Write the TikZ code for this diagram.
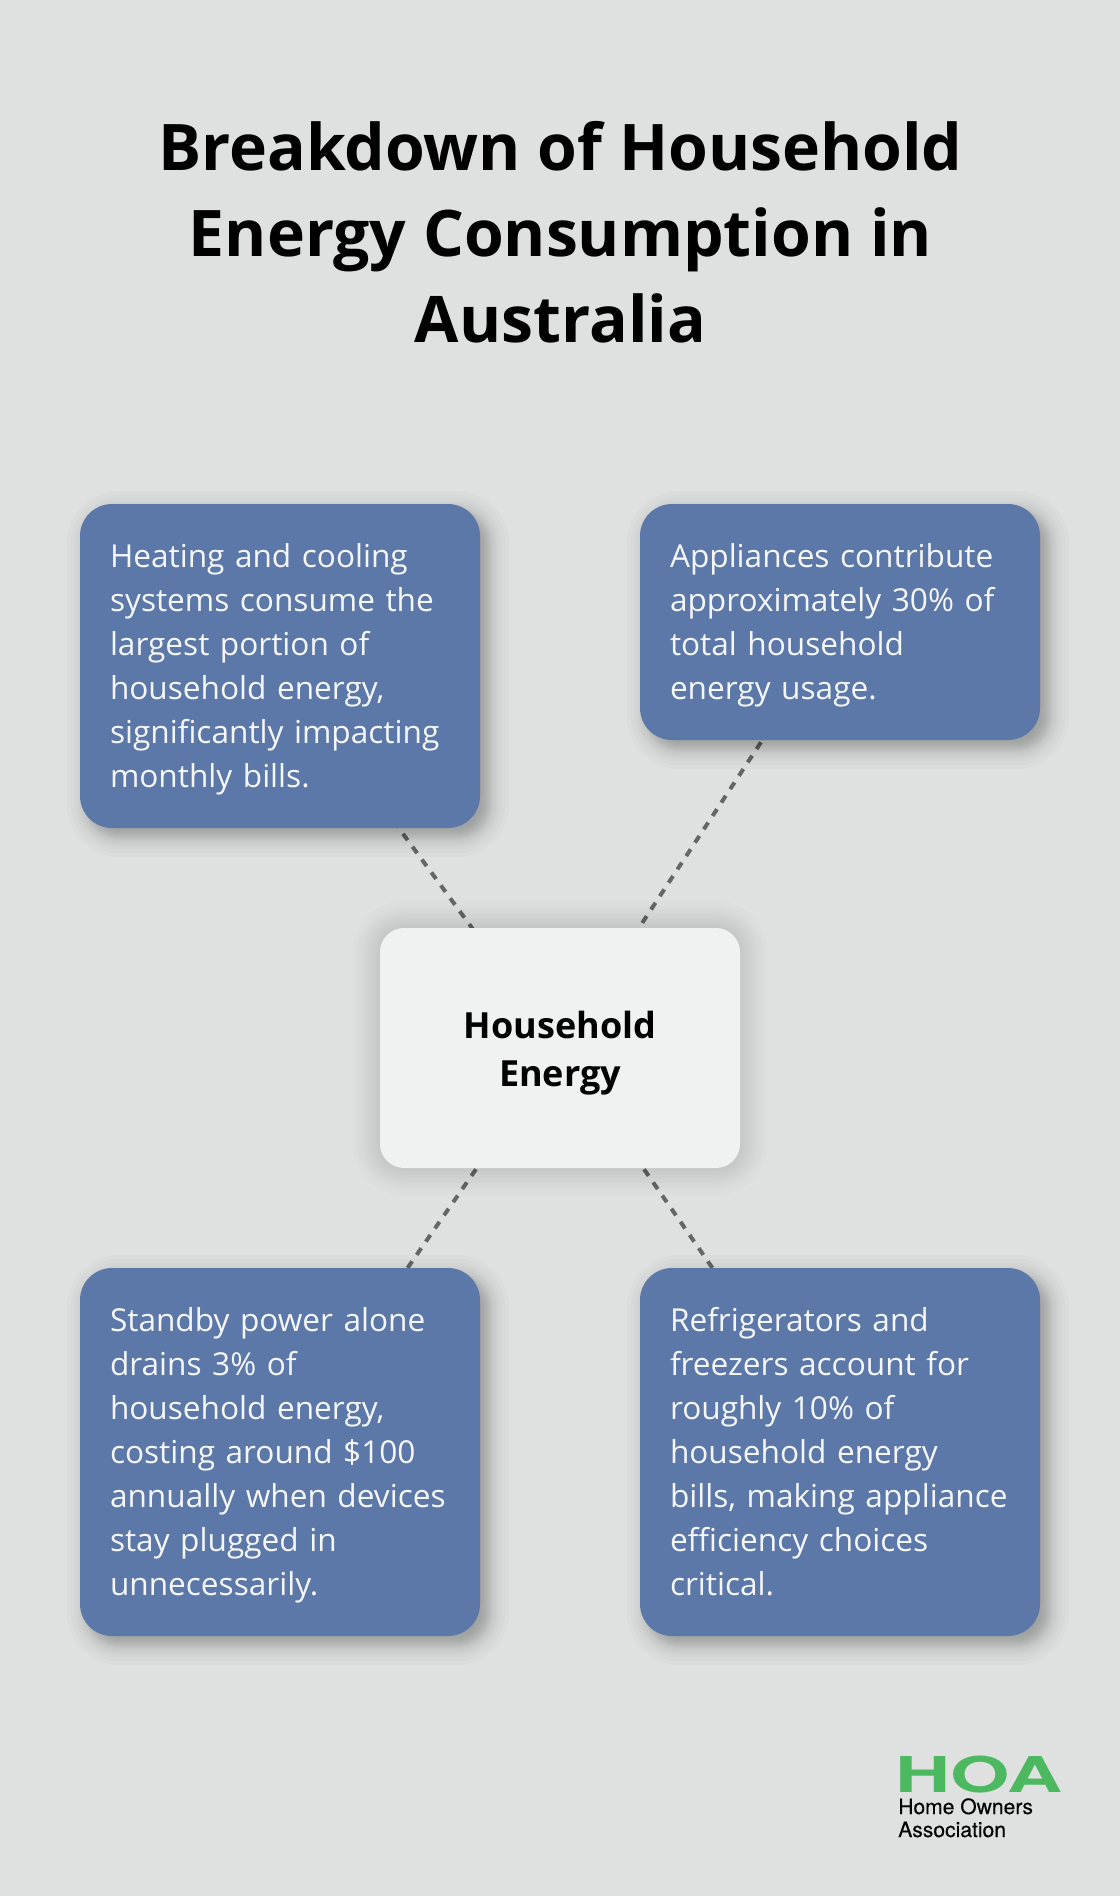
\documentclass[tikz,border=0pt]{standalone}
\usepackage{fontspec}
\setmainfont{Open Sans}
\newfontfamily\logofont{TeX Gyre Heros}
\newfontfamily\logosmall[FakeBold=0.25]{TeX Gyre Heros}
\usetikzlibrary{calc,backgrounds}
\definecolor{pagebg}{HTML}{DEE1E0}
\definecolor{cardblue}{HTML}{5C78A8}
\definecolor{hubfill}{HTML}{F0F2F1}
\definecolor{linkgrey}{HTML}{666666}
\definecolor{logogreen}{HTML}{4CB860}
\definecolor{cardink}{HTML}{F4F6F8}
\tikzset{
  x=0.75pt,y=-0.75pt,
  cardbox/.style={fill=cardblue,rounded corners=24pt,inner sep=0pt,minimum width=300pt},
  cardtext/.style={inner sep=0pt,text=cardink,anchor=west,text width=270pt,align=left,
    execute at end node={\rule[-5.7pt]{0pt}{5.7pt}},
    font=\fontsize{23.7}{33}\selectfont},
  hubbox/.style={fill=hubfill,rounded corners=18pt,inner sep=0pt,
    minimum width=270pt,minimum height=180pt},
  hubtext/.style={inner sep=0pt,text=black,align=center,
    font=\fontsize{27}{36}\selectfont\bfseries},
  titlenode/.style={inner sep=0pt,align=center,text=black,font=\fontsize{48.2}{64.5}\selectfont\bfseries},
  link/.style={draw=linkgrey,line width=3pt,dash pattern=on 6pt off 6pt},
  logomark/.style={inner sep=0pt,text=logogreen,font=\logofont\fontsize{37}{37}\selectfont\bfseries},
  logotext/.style={inner sep=0pt,align=left,text=black,font=\logosmall\fontsize{15.8}{17.25}\selectfont}
}
% #1 node, #2 dx, #3 dy, #4 corner radius (px), #5 layer list macro, #6 layer opacity
\newcommand{\softshadow}[6]{%
  \foreach \s in #5{%
    \pgfmathsetlengthmacro{\rad}{(#4+\s)*0.75pt}%
    \fill[black,opacity=#6,rounded corners=\rad]
      ($(#1.north west)+(#2-\s,#3-\s)$) rectangle ($(#1.south east)+(#2+\s,#3+\s)$);
  }%
}
\def\cardlayers{-16,-12,-9,-7,-5,-4,-3,-2,-1,0,1,2,3,4,6,8,10,13,17,21}
\def\hublayers{-21,-15,-10,-6,-3,0,3,6,9,12,15,18,22,27}
\begin{document}
\begin{tikzpicture}
\useasboundingbox (0,0) rectangle (1120,1896);
\node[titlenode] (title) at (560.5,232) {Breakdown of Household\\Energy Consumption in\\Australia};
\node[cardbox,minimum height=243pt] (heat) at (280,666) {};
\node[cardbox,minimum height=177pt] (appl) at (840,622) {};
\node[cardbox,minimum height=276pt] (stby) at (280,1452) {};
\node[cardbox,minimum height=276pt] (frdg) at (840,1452) {};
\node[hubbox] (hub) at (560,1048) {};
\node[cardtext] (heattext) at ($(heat.west)+(30,3.6)$) {Heating and cooling\\systems consume the\\largest portion of\\household energy,\\significantly impacting\\monthly bills.};
\node[cardtext] (appltext) at ($(appl.west)+(30,3.6)$) {Appliances contribute\\approximately 30\% of\\total household\\energy usage.};
\node[cardtext] (stbytext) at ($(stby.west)+(30,3.6)$) {Standby power alone\\drains 3\% of\\household energy,\\costing around \$100\\annually when devices\\stay plugged in\\unnecessarily.};
\node[cardtext] (frdgtext) at ($(frdg.west)+(30,3.6)$) {Refrigerators and\\freezers account for\\roughly 10\% of\\household energy\\bills, making appliance\\efficiency choices\\critical.};
\node[hubtext] (hubtext) at ($(hub.center)+(0,4.8)$) {Household\\Energy};
\node[logomark,anchor=north west] (hoa) at (895,1756) {\scalebox{1.55}[1]{HOA}};
\node[logotext,anchor=north west] (assoc) at (898,1798) {Home Owners\\Association};
\begin{pgfonlayer}{background}
  \fill[pagebg] (0,0) rectangle (1120,1896);
  \draw[link] (heat.center) -- (hub.center);
  \draw[link] (appl.center) -- (hub.center);
  \draw[link] (stby.center) -- (hub.center);
  \draw[link] (frdg.center) -- (hub.center);
  \softshadow{heat}{8}{8}{32}{\cardlayers}{0.016}
  \softshadow{appl}{8}{8}{32}{\cardlayers}{0.016}
  \softshadow{stby}{8}{8}{32}{\cardlayers}{0.016}
  \softshadow{frdg}{8}{8}{32}{\cardlayers}{0.016}
  \softshadow{hub}{0}{0}{24}{\hublayers}{0.013}
\end{pgfonlayer}
\end{tikzpicture}
\end{document}
